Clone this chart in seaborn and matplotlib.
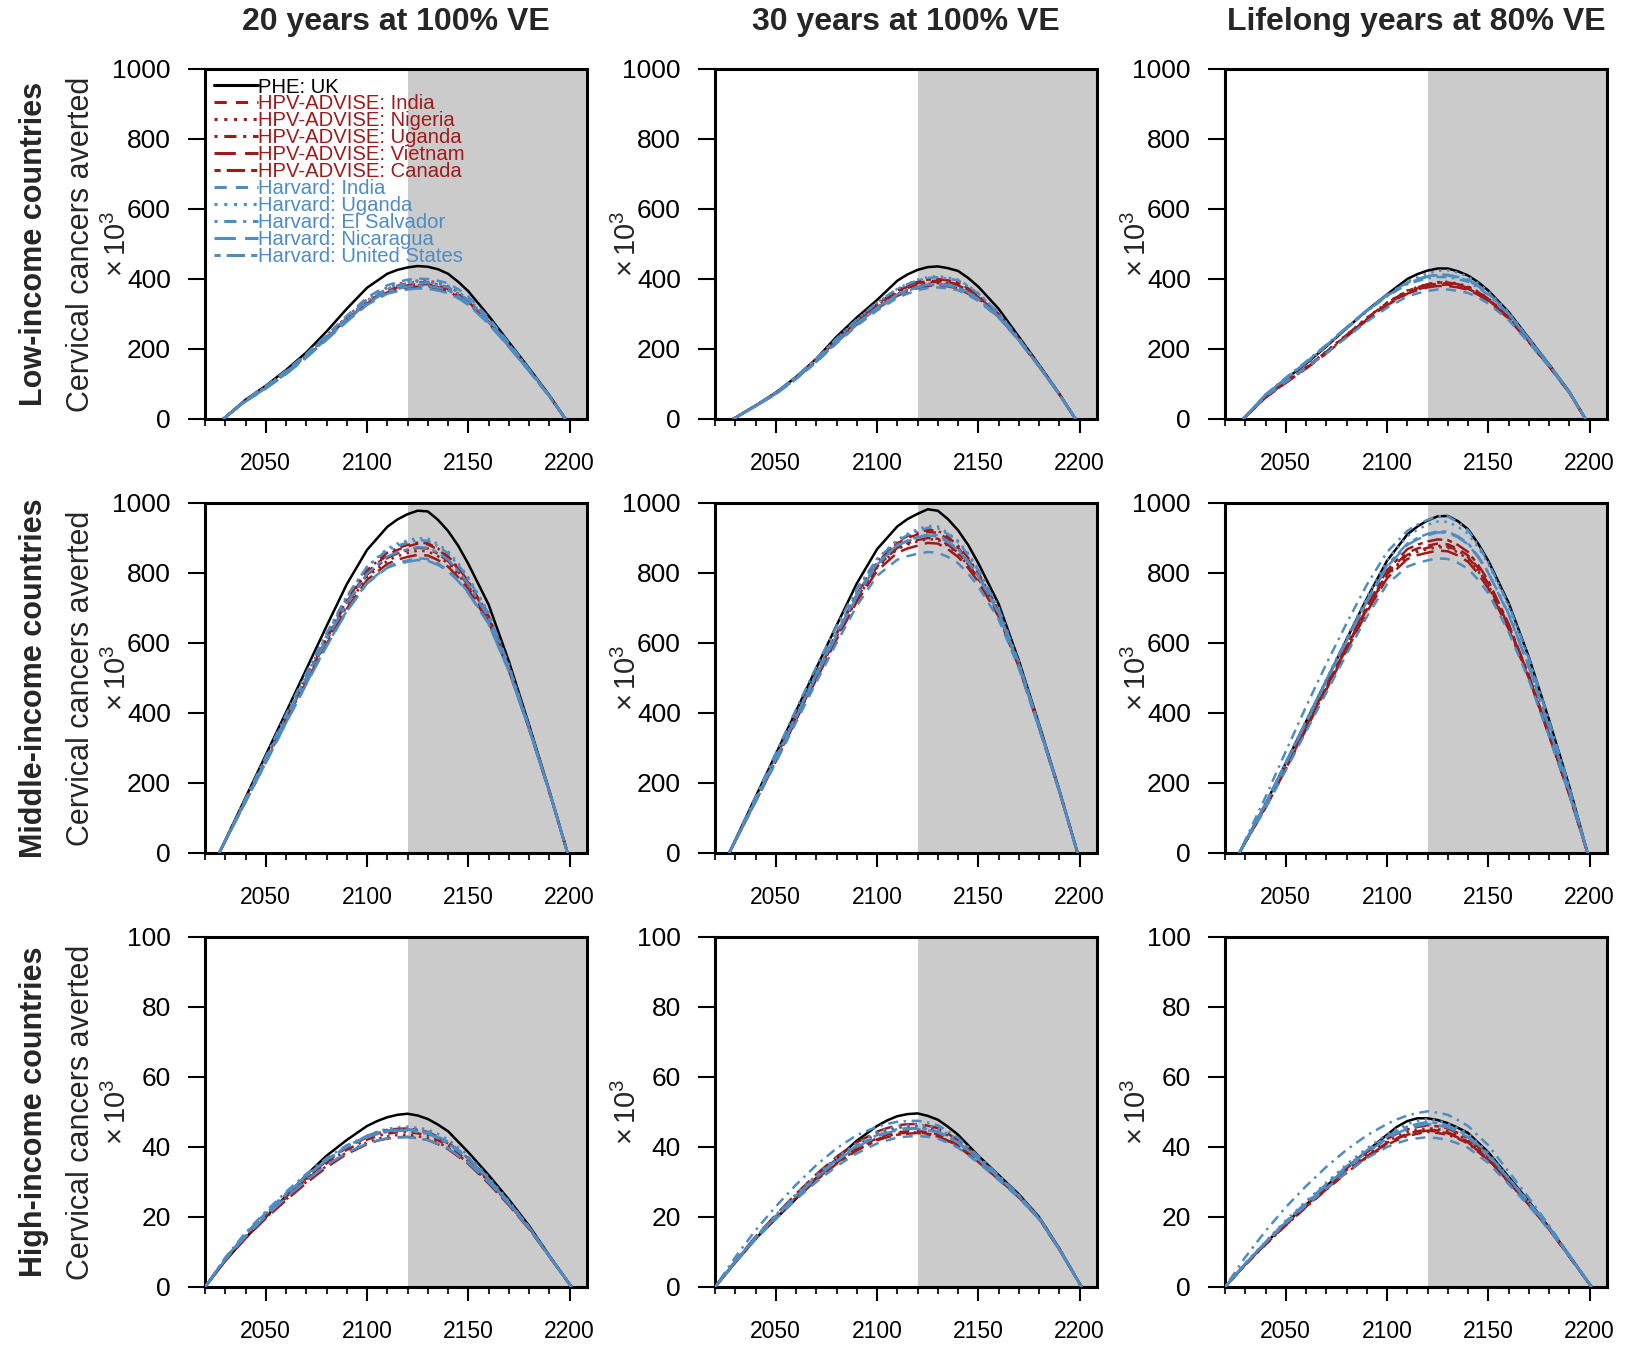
import numpy as np
import pandas as pd
import matplotlib
matplotlib.use("Agg")
import matplotlib.pyplot as plt
import seaborn as sns
from matplotlib.lines import Line2D
from matplotlib.ticker import MultipleLocator, FixedLocator

sns.set_style("ticks")
plt.rcParams["font.family"] = ["Liberation Sans", "DejaVu Sans"]
plt.rcParams["mathtext.fontset"] = "custom"
plt.rcParams["mathtext.rm"] = "Liberation Sans"
plt.rcParams["mathtext.it"] = "Liberation Sans:italic"
plt.rcParams["mathtext.bf"] = "Liberation Sans:bold"

# ---------------- data ----------------
series_names = ["PHE: UK", "HPV-ADVISE: India", "HPV-ADVISE: Nigeria", "HPV-ADVISE: Uganda",
                "HPV-ADVISE: Vietnam", "HPV-ADVISE: Canada", "Harvard: India", "Harvard: Uganda",
                "Harvard: El Salvador", "Harvard: Nicaragua", "Harvard: United States"]
col_titles = ["20 years at 100% VE", "30 years at 100% VE", "Lifelong years at 80% VE"]
row_titles = ["Low-income countries", "Middle-income countries", "High-income countries"]

years_low = [2029, 2040, 2050, 2060, 2070, 2080, 2090, 2100, 2110, 2115, 2120, 2125, 2130, 2135,
             2140, 2145, 2150, 2160, 2170, 2180, 2190, 2198]
years_mid = [2027, 2040, 2050, 2060, 2070, 2080, 2090, 2100, 2110, 2115, 2120, 2125, 2130, 2135,
             2140, 2145, 2150, 2160, 2170, 2180, 2190, 2199]
years_high = [2020, 2030, 2040, 2050, 2060, 2070, 2080, 2090, 2100, 2105, 2110, 2115, 2120, 2125,
              2130, 2135, 2140, 2150, 2160, 2170, 2180, 2190, 2201]

low_20y = [
    [0, 55, 95, 140, 190, 250, 315, 375, 415, 426, 433, 437, 435, 428, 415, 392, 365, 295, 220, 145, 68, 0],
    [0, 52, 90, 132, 180, 232, 285, 335, 368, 376, 382, 385, 385, 380, 372, 355, 335, 278, 210, 140, 66, 0],
    [0, 54, 92, 136, 184, 238, 292, 342, 376, 385, 392, 395, 395, 389, 380, 362, 340, 282, 212, 140, 66, 0],
    [0, 53, 91, 134, 182, 235, 288, 338, 372, 381, 388, 391, 390, 384, 376, 358, 338, 280, 211, 140, 66, 0],
    [0, 51, 88, 130, 177, 228, 280, 330, 362, 369, 375, 378, 378, 373, 365, 349, 330, 275, 208, 138, 65, 0],
    [0, 52, 89, 131, 179, 230, 283, 333, 365, 373, 379, 382, 382, 377, 369, 352, 333, 277, 209, 139, 65, 0],
    [0, 55, 94, 138, 186, 240, 295, 347, 382, 391, 398, 401, 400, 395, 388, 371, 350, 290, 218, 143, 67, 0],
    [0, 54, 92, 135, 183, 236, 290, 341, 375, 384, 390, 393, 392, 387, 380, 363, 343, 285, 215, 142, 67, 0],
    [0, 53, 91, 134, 181, 234, 287, 338, 372, 380, 386, 389, 388, 383, 376, 359, 340, 283, 214, 141, 66, 0],
    [0, 50, 87, 128, 175, 226, 278, 326, 358, 365, 370, 373, 372, 367, 360, 345, 326, 272, 206, 137, 65, 0],
    [0, 51, 88, 130, 177, 229, 281, 331, 364, 372, 378, 381, 380, 375, 368, 351, 332, 276, 208, 138, 65, 0],
]
low_30y = [
    [0, 38, 75, 120, 172, 235, 290, 340, 395, 413, 426, 434, 436, 431, 423, 403, 378, 315, 235, 155, 72, 0],
    [0, 38, 74, 118, 168, 225, 278, 325, 365, 378, 388, 394, 395, 391, 385, 369, 350, 298, 228, 152, 71, 0],
    [0, 37, 73, 117, 166, 222, 274, 320, 358, 370, 380, 386, 388, 385, 379, 364, 345, 295, 226, 151, 71, 0],
    [0, 38, 74, 118, 168, 224, 277, 323, 362, 374, 384, 390, 392, 388, 382, 367, 348, 296, 227, 152, 71, 0],
    [0, 37, 72, 116, 164, 219, 270, 315, 352, 364, 374, 380, 382, 379, 373, 358, 340, 292, 225, 150, 70, 0],
    [0, 38, 75, 119, 170, 227, 280, 328, 368, 381, 392, 398, 400, 396, 390, 373, 353, 300, 229, 153, 71, 0],
    [0, 36, 71, 114, 162, 216, 266, 310, 346, 358, 368, 374, 376, 373, 368, 354, 337, 290, 224, 150, 70, 0],
    [0, 38, 75, 120, 171, 229, 283, 332, 372, 386, 398, 405, 408, 404, 398, 381, 360, 304, 231, 154, 72, 0],
    [0, 39, 76, 121, 172, 230, 284, 333, 372, 385, 396, 403, 405, 401, 396, 379, 358, 303, 230, 153, 71, 0],
    [0, 37, 73, 116, 165, 221, 273, 318, 356, 368, 378, 384, 386, 383, 377, 362, 343, 294, 226, 151, 71, 0],
    [0, 37, 72, 115, 164, 219, 271, 316, 354, 366, 376, 382, 384, 381, 375, 360, 342, 293, 225, 150, 70, 0],
]
low_life = [
    [0, 68, 114, 158, 207, 259, 310, 356, 400, 414, 424, 430, 430, 422, 410, 391, 367, 306, 231, 156, 78, 0],
    [0, 62, 105, 146, 190, 238, 285, 328, 362, 373, 382, 387, 388, 383, 375, 360, 342, 290, 222, 151, 76, 0],
    [0, 63, 106, 148, 193, 241, 289, 333, 367, 377, 386, 391, 392, 387, 379, 364, 345, 292, 223, 152, 76, 0],
    [0, 62, 104, 145, 189, 237, 284, 327, 360, 370, 378, 383, 384, 379, 372, 358, 340, 289, 221, 151, 76, 0],
    [0, 61, 103, 144, 187, 235, 282, 325, 358, 368, 376, 380, 380, 376, 369, 355, 337, 287, 220, 150, 75, 0],
    [0, 63, 106, 147, 192, 240, 288, 332, 366, 376, 385, 390, 390, 385, 377, 362, 344, 291, 222, 152, 76, 0],
    [0, 64, 106, 146, 188, 233, 278, 318, 350, 359, 366, 370, 370, 366, 360, 347, 330, 283, 218, 149, 75, 0],
    [0, 69, 116, 160, 208, 258, 307, 352, 392, 405, 416, 423, 425, 418, 407, 388, 365, 305, 230, 156, 78, 0],
    [0, 70, 118, 164, 212, 262, 308, 350, 385, 394, 402, 406, 405, 400, 392, 375, 355, 299, 227, 154, 77, 0],
    [0, 68, 115, 161, 210, 262, 311, 355, 390, 400, 408, 413, 412, 406, 398, 381, 360, 302, 229, 155, 78, 0],
    [0, 69, 116, 162, 210, 260, 309, 352, 388, 398, 406, 411, 410, 404, 396, 379, 358, 301, 228, 155, 77, 0],
]
mid_20y = [
    [0, 158, 280, 402, 525, 648, 768, 866, 932, 953, 968, 978, 976, 952, 920, 878, 826, 710, 548, 366, 178, 0],
    [0, 150, 266, 384, 500, 612, 718, 802, 852, 866, 876, 884, 882, 867, 845, 812, 772, 675, 530, 358, 176, 0],
    [0, 148, 262, 378, 492, 602, 705, 788, 835, 848, 857, 864, 862, 848, 827, 796, 758, 665, 525, 356, 175, 0],
    [0, 151, 268, 387, 503, 616, 722, 808, 858, 871, 880, 887, 885, 870, 848, 815, 776, 678, 532, 359, 176, 0],
    [0, 147, 260, 375, 488, 597, 698, 780, 826, 838, 846, 852, 850, 837, 818, 788, 752, 660, 522, 355, 175, 0],
    [0, 149, 264, 381, 496, 607, 712, 795, 843, 856, 865, 872, 870, 855, 834, 803, 764, 670, 528, 357, 176, 0],
    [0, 146, 258, 372, 484, 592, 692, 772, 818, 829, 836, 842, 840, 827, 808, 780, 745, 656, 520, 354, 175, 0],
    [0, 152, 270, 390, 508, 622, 730, 818, 870, 884, 893, 900, 898, 883, 862, 828, 788, 688, 538, 362, 178, 0],
    [0, 155, 275, 396, 514, 628, 734, 818, 866, 878, 887, 894, 892, 877, 856, 823, 784, 684, 536, 361, 177, 0],
    [0, 146, 258, 371, 482, 590, 690, 770, 815, 825, 832, 837, 835, 823, 805, 777, 742, 655, 520, 354, 175, 0],
    [0, 150, 266, 384, 499, 610, 714, 798, 847, 859, 868, 874, 872, 858, 838, 806, 768, 672, 530, 358, 176, 0],
]
mid_30y = [
    [0, 160, 282, 405, 528, 650, 770, 868, 933, 954, 969, 982, 978, 954, 922, 880, 828, 712, 550, 368, 180, 0],
    [0, 150, 268, 388, 508, 625, 738, 830, 885, 900, 910, 917, 915, 897, 872, 837, 795, 690, 540, 362, 178, 0],
    [0, 148, 265, 383, 500, 615, 725, 815, 868, 881, 890, 897, 895, 878, 855, 822, 782, 680, 535, 360, 177, 0],
    [0, 152, 272, 392, 512, 628, 740, 832, 890, 905, 915, 923, 921, 903, 878, 843, 800, 694, 542, 363, 178, 0],
    [0, 147, 262, 380, 496, 610, 718, 806, 858, 870, 878, 886, 884, 868, 846, 814, 775, 676, 532, 358, 176, 0],
    [0, 149, 266, 385, 503, 618, 728, 818, 872, 885, 894, 900, 898, 881, 858, 825, 785, 683, 536, 360, 177, 0],
    [0, 145, 258, 373, 488, 600, 706, 792, 838, 848, 855, 860, 858, 846, 828, 798, 762, 668, 528, 356, 176, 0],
    [0, 153, 273, 394, 514, 632, 745, 840, 895, 912, 925, 935, 933, 915, 892, 856, 812, 702, 546, 365, 179, 0],
    [0, 160, 285, 410, 532, 648, 755, 840, 892, 908, 920, 929, 928, 911, 888, 852, 808, 698, 544, 364, 179, 0],
    [0, 150, 268, 387, 506, 622, 733, 824, 878, 891, 900, 907, 905, 888, 865, 831, 790, 686, 538, 361, 177, 0],
    [0, 151, 270, 390, 510, 626, 737, 828, 880, 893, 902, 910, 908, 891, 868, 833, 792, 688, 539, 362, 178, 0],
]
mid_life = [
    [0, 140, 257, 375, 492, 610, 727, 835, 910, 933, 950, 962, 963, 948, 925, 884, 835, 715, 560, 380, 190, 0],
    [0, 132, 245, 360, 474, 588, 700, 800, 858, 870, 878, 884, 882, 869, 850, 814, 770, 650, 505, 338, 168, 0],
    [0, 130, 242, 356, 470, 583, 694, 792, 848, 860, 868, 874, 872, 859, 840, 805, 762, 645, 502, 336, 167, 0],
    [0, 131, 243, 357, 471, 585, 696, 796, 852, 864, 872, 878, 876, 864, 845, 809, 766, 648, 504, 337, 168, 0],
    [0, 129, 240, 353, 466, 578, 688, 785, 840, 851, 858, 864, 862, 850, 832, 798, 756, 640, 500, 335, 167, 0],
    [0, 133, 247, 362, 477, 592, 705, 808, 868, 881, 890, 896, 894, 880, 860, 823, 778, 655, 508, 340, 169, 0],
    [0, 128, 236, 347, 458, 568, 675, 768, 818, 829, 836, 842, 840, 829, 812, 781, 742, 632, 495, 333, 166, 0],
    [0, 142, 260, 378, 496, 614, 730, 836, 905, 924, 938, 947, 946, 932, 912, 873, 826, 705, 552, 374, 187, 0],
    [0, 160, 290, 418, 540, 656, 766, 860, 920, 938, 952, 962, 962, 945, 922, 880, 830, 710, 558, 378, 189, 0],
    [0, 138, 255, 372, 490, 606, 718, 818, 880, 896, 908, 916, 915, 902, 882, 845, 800, 682, 532, 358, 178, 0],
    [0, 140, 258, 376, 494, 610, 722, 822, 884, 900, 912, 919, 918, 905, 885, 848, 802, 684, 534, 360, 179, 0],
]
high_20y = [
    [0, 7.5, 14, 20, 26, 32, 37.5, 42, 46, 47.4, 48.5, 49.2, 49.5, 49.0, 48, 46.4, 44.5, 38.5, 32, 25, 17.5, 9, 0],
    [0, 7.8, 14.5, 20.3, 25.8, 31, 35.8, 39.8, 42.8, 43.8, 44.5, 44.9, 45, 44.6, 44, 42.6, 41, 36.5, 30.5, 24, 17, 8.8, 0],
    [0, 7.6, 14, 19.8, 25, 30, 34.6, 38.5, 41.3, 42.3, 43, 43.4, 43.5, 43.1, 42.5, 41.3, 39.8, 35.5, 29.8, 23.5, 16.7, 8.7, 0],
    [0, 7.7, 14.3, 20, 25.5, 30.6, 35.3, 39.2, 42.1, 43.1, 43.8, 44.2, 44.3, 43.9, 43.3, 41.9, 40.4, 36, 30.2, 23.8, 16.9, 8.8, 0],
    [0, 7.5, 13.9, 19.6, 24.8, 29.7, 34.2, 38, 40.8, 41.8, 42.4, 42.8, 42.9, 42.5, 42, 40.8, 39.4, 35.2, 29.6, 23.4, 16.6, 8.7, 0],
    [0, 7.9, 14.6, 20.5, 26, 31.2, 36, 40.1, 43.1, 44.2, 44.9, 45.2, 45.3, 44.9, 44.3, 42.9, 41.3, 36.8, 30.7, 24.1, 17, 8.8, 0],
    [0, 8.2, 15.2, 21.2, 26.8, 31.8, 36.4, 40.2, 43, 44, 44.6, 44.9, 45, 44.7, 44.2, 43, 41.5, 37, 31, 24.3, 17.1, 8.9, 0],
    [0, 8, 14.8, 20.8, 26.4, 31.5, 36.2, 40.2, 43.2, 44.4, 45.2, 45.6, 45.8, 45.5, 45, 43.7, 42.2, 37.6, 31.4, 24.6, 17.2, 8.9, 0],
    [0, 8.4, 15.5, 21.6, 27.2, 32.3, 36.8, 40.5, 43.2, 44.1, 44.7, 44.9, 45, 44.6, 44, 42.7, 41.2, 36.7, 30.8, 24.2, 17, 8.8, 0],
    [0, 7.8, 14.4, 20.2, 25.5, 30.4, 34.8, 38.4, 41, 41.9, 42.5, 42.7, 42.8, 42.5, 42, 40.9, 39.6, 35.5, 30, 23.7, 16.8, 8.8, 0],
    [0, 8.1, 15, 21, 26.5, 31.6, 36.2, 40, 42.8, 43.7, 44.3, 44.6, 44.7, 44.3, 43.8, 42.5, 41, 36.6, 30.6, 24.1, 17, 8.8, 0],
]
high_30y = [
    [0, 7, 13.8, 19.5, 25.2, 31.2, 36.6, 41.8, 46, 47.6, 48.8, 49.4, 49.6, 48.9, 47.8, 45.8, 43.5, 37.5, 32, 26.5, 20, 11, 0],
    [0, 7.2, 14, 20, 25.8, 31, 35.8, 39.6, 42.5, 43.5, 44.2, 44.5, 44.6, 44.2, 43.6, 42.2, 40.6, 36, 31, 25.8, 19.6, 10.8, 0],
    [0, 7.3, 14.2, 20.4, 26.3, 31.8, 36.8, 40.8, 43.8, 44.8, 45.5, 45.8, 45.9, 45.4, 44.8, 43.3, 41.6, 36.7, 31.4, 26, 19.7, 10.8, 0],
    [0, 7.1, 13.9, 19.8, 25.6, 30.8, 35.5, 39.3, 42.2, 43.1, 43.8, 44.1, 44.2, 43.8, 43.2, 41.8, 40.3, 35.8, 30.9, 25.7, 19.5, 10.7, 0],
    [0, 7.4, 14.4, 20.6, 26.6, 32.2, 37.2, 41.3, 44.4, 45.4, 46.2, 46.5, 46.6, 46.1, 45.4, 43.8, 42, 37, 31.6, 26.1, 19.8, 10.9, 0],
    [0, 7, 13.7, 19.6, 25.3, 30.5, 35.2, 39, 41.9, 42.8, 43.5, 43.8, 44, 43.6, 43, 41.7, 40.2, 35.7, 30.8, 25.6, 19.5, 10.7, 0],
    [0, 7, 13.6, 19.4, 25, 30, 34.5, 38.2, 41, 41.9, 42.7, 43, 43.2, 42.9, 42.4, 41.2, 39.8, 35.5, 30.6, 25.5, 19.4, 10.7, 0],
    [0, 7.3, 14.3, 20.5, 26.5, 32, 37, 41, 44.2, 45.2, 46, 46.3, 46.5, 46, 45.3, 43.7, 42, 37.1, 31.7, 26.2, 19.8, 10.9, 0],
    [0, 8.5, 16.2, 23, 29.2, 34.8, 39.6, 43.4, 45.8, 46.6, 47.2, 47.4, 47.5, 47, 46.2, 44.5, 42.6, 37.4, 31.9, 26.3, 19.9, 10.9, 0],
    [0, 7.2, 14, 20, 25.8, 31.2, 36, 40, 43, 44, 44.8, 45.1, 45.2, 44.8, 44.2, 42.8, 41.2, 36.5, 31.3, 26, 19.7, 10.8, 0],
    [0, 7.3, 14.2, 20.3, 26.1, 31.5, 36.4, 40.4, 43.4, 44.3, 45.1, 45.4, 45.5, 45.1, 44.5, 43, 41.4, 36.6, 31.4, 26, 19.7, 10.8, 0],
]
high_life = [
    [0, 6.5, 12.5, 18.2, 23.5, 28.8, 34, 38.8, 43.5, 45.8, 47.4, 48.2, 48.2, 47.7, 46.8, 45.5, 44, 38.5, 31.5, 24.5, 17, 9, 0],
    [0, 6.4, 12.3, 17.8, 23, 28, 32.9, 37.4, 41.2, 42.6, 43.8, 44.5, 45, 44.7, 44.2, 43, 41.5, 36.6, 30.2, 23.6, 16.5, 8.7, 0],
    [0, 6.5, 12.4, 18, 23.3, 28.4, 33.4, 37.9, 41.6, 43, 44.2, 44.9, 45.4, 45.1, 44.5, 43.3, 41.8, 36.9, 30.4, 23.7, 16.6, 8.7, 0],
    [0, 6.3, 12.1, 17.6, 22.8, 27.8, 32.6, 37, 40.6, 42, 43.1, 43.8, 44.3, 44, 43.5, 42.4, 41, 36.2, 30, 23.5, 16.5, 8.7, 0],
    [0, 6.4, 12.2, 17.7, 22.9, 27.9, 32.8, 37.2, 41, 42.4, 43.5, 44.2, 44.7, 44.4, 43.9, 42.7, 41.3, 36.4, 30.1, 23.6, 16.5, 8.7, 0],
    [0, 6.6, 12.6, 18.3, 23.6, 28.8, 33.9, 38.5, 42.3, 43.8, 45, 45.7, 46.2, 45.9, 45.3, 44, 42.5, 37.4, 30.7, 23.9, 16.7, 8.8, 0],
    [0, 6.6, 12.6, 18.2, 23.3, 28.2, 32.8, 36.8, 40, 41.1, 42, 42.5, 42.8, 42.5, 42, 41, 39.8, 35.4, 29.4, 23.2, 16.3, 8.7, 0],
    [0, 6.8, 13, 19, 24.5, 29.8, 35, 39.6, 43.6, 45.2, 46.6, 47.4, 48, 47.5, 46.8, 45.4, 43.8, 38.3, 31.3, 24.3, 16.9, 8.9, 0],
    [0, 8.5, 16, 22.8, 28.8, 34.3, 39.2, 43.3, 46.6, 47.9, 49, 49.7, 50.2, 49.8, 49.2, 47.7, 46, 40.5, 33, 25.5, 17.6, 9.2, 0],
    [0, 6.6, 12.7, 18.5, 23.8, 29, 34, 38.5, 42.4, 43.9, 45.2, 46, 46.6, 46.2, 45.6, 44.3, 42.8, 37.6, 30.9, 24.1, 16.8, 8.9, 0],
    [0, 6.7, 12.8, 18.7, 24.1, 29.4, 34.5, 39, 43, 44.5, 45.8, 46.6, 47.2, 46.8, 46.2, 44.8, 43.3, 38, 31.1, 24.2, 16.9, 8.9, 0],
]

panels = [[low_20y, low_30y, low_life],
          [mid_20y, mid_30y, mid_life],
          [high_20y, high_30y, high_life]]
row_years = [years_low, years_mid, years_high]
row_ymax = [1000, 1000, 100]
row_ystep = [200, 200, 20]

# ---------------- styles ----------------
RED = "#9E1B1B"
BLUE = "#4E8CC2"
colors = {n: ("black" if i == 0 else (RED if i <= 5 else BLUE)) for i, n in enumerate(series_names)}
pats = ["", (4, 3), (1, 2.2), (1, 2.2, 4, 2.2), (7, 3), (2, 2, 6, 2)]
dash_map = {}
for i, n in enumerate(series_names):
    dash_map[n] = "" if i == 0 else pats[(i - 1) % 5 + 1]

W, H = 1626, 1346
fig = plt.figure(figsize=(W / 100, H / 100), dpi=100)

ax_left = [205, 715, 1225]
ax_top = [69, 503, 937]
ax_w, ax_h = 382, 350
LW = 1.8

for r in range(3):
    for c in range(3):
        l = ax_left[c]
        t = ax_top[r]
        ax = fig.add_axes([l / W, 1 - (t + ax_h) / H, ax_w / W, ax_h / H])
        ax.axvspan(2120, 2215, color="#cbcbcb", lw=0, zorder=0)
        vals = panels[r][c]
        yrs = row_years[r]
        recs = []
        for name, v in zip(series_names, vals):
            for x, y in zip(yrs, v):
                recs.append((x, y, name))
        df = pd.DataFrame(recs, columns=["year", "value", "series"])
        sns.lineplot(data=df, x="year", y="value", hue="series", style="series",
                     hue_order=series_names, style_order=series_names,
                     palette=colors, dashes=dash_map, linewidth=LW,
                     estimator=None, sort=False, legend=False, ax=ax, zorder=3)
        ax.set_xlim(2020, 2208.6)
        ax.set_ylim(0, row_ymax[r])
        ax.set_xlabel("")
        ax.set_ylabel("")
        ax.xaxis.set_major_locator(FixedLocator([2050, 2100, 2150, 2200]))
        ax.xaxis.set_minor_locator(MultipleLocator(10))
        ax.yaxis.set_major_locator(MultipleLocator(row_ystep[r]))
        for s in ax.spines.values():
            s.set_visible(True)
            s.set_linewidth(2.2)
            s.set_color("black")
        ax.tick_params(axis="y", which="major", length=12.5, width=1.5, pad=12,
                       labelsize=19, colors="black")
        ax.tick_params(axis="x", which="major", length=10, width=1.5, pad=14,
                       labelsize=16.5, colors="black")
        ax.tick_params(axis="x", which="minor", length=5, width=1.5)
        ax.set_facecolor("white")
        ax.grid(False)

        # x10^3 label
        fig.text((l - 88) / W, 1 - (t + ax_h / 2) / H, r"$\times\,10^{3}$",
                 rotation=90, ha="center", va="center", fontsize=21)

        if r == 0 and c == 0:
            handles = []
            for n in series_names:
                d = dash_map[n]
                if d == "":
                    h = Line2D([], [], color=colors[n], lw=2.2, linestyle="-")
                else:
                    h = Line2D([], [], color=colors[n], lw=2.2, dashes=d)
                handles.append(h)
            ax.legend(handles, series_names, loc="upper left", bbox_to_anchor=(0.0, 1.0),
                      frameon=False, fontsize=14.6, handlelength=2.2, handletextpad=0.0,
                      labelspacing=-0.1, borderaxespad=0.12, borderpad=0.3,
                      labelcolor="linecolor")

# column titles
for c in range(3):
    fig.text((ax_left[c] + ax_w / 2) / W, 1 - 22 / H, col_titles[c], ha="center", va="center",
             fontsize=23, fontweight="bold")

# row titles and y labels
for r in range(3):
    yc = 1 - (ax_top[r] + ax_h / 2) / H
    fig.text(34 / W, yc, row_titles[r], rotation=90, ha="center", va="center",
             fontsize=22, fontweight="bold")
    fig.text(81 / W, yc, "Cervical cancers averted", rotation=90, ha="center", va="center",
             fontsize=22)

fig.savefig("out.png", dpi=100, facecolor="white")
